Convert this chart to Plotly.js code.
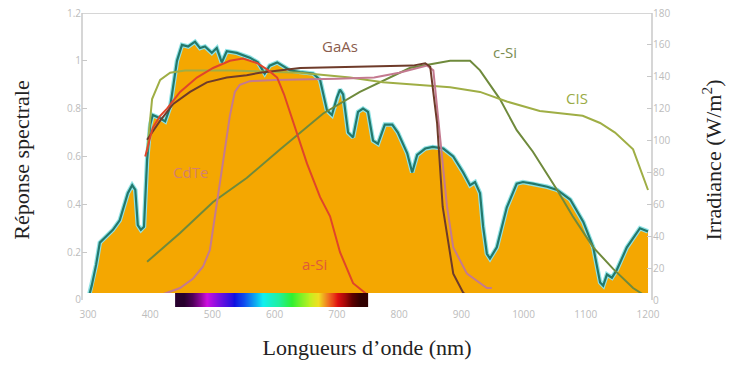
<!DOCTYPE html>
<html>
<head>
<meta charset="utf-8">
<script src="https://cdn.plot.ly/plotly-3.0.1.min.js"></script>
<style>html,body{margin:0;padding:0;background:#fff;}#chart{width:731px;height:367px;}</style>
</head>
<body>
<div id="chart"></div>
<script>
// ---- Solar irradiance spectrum (W/m²) ----
const specNm = [300,306,313,319,327,340,351,359,364,371,376,380,385,390,395,400,404,416,424,432,437,443,451,461,472,480,488,499,507,515,523,539,560,573,584,592,604,613,625,641,662,673,684,692,700,705,710,718,726,734,742,750,758,766,777,789,798,813,821,829,842,854,871,887,903,914,922,930,935,941,946,957,973,989,999,1015,1038,1054,1075,1096,1112,1123,1128,1134,1142,1150,1166,1187,1200];
const specIrr = [0,9,22,36,39,44,50,60,67,72,69,47,44,46,88,110,116,114,112,121,134,150,160,159,162,158,159,155,158,149,156,155,152,149,142,147,149,147,144,143,142,138,119,116,127,132,129,105,102,118,120,118,100,98,110,110,105,92,80,91,95,96,95,90,80,72,74,67,46,29,26,33,58,73,74,73,71,69,63,49,33,11,9,16,14,19,33,45,43];

// ---- Spectral responses ----
const aSiNm  = [392,404,416,427,448,475,501,528,549,572,590,604,615,625,640,652,673,689,705,726,753,785];
const aSiVal = [0.60,0.72,0.77,0.80,0.87,0.93,0.97,1.00,1.01,0.99,0.96,0.93,0.86,0.78,0.67,0.57,0.43,0.35,0.20,0.07,0.013,0];

const cdTeNm  = [395,427,448,469,485,496,504,512,520,528,536,544,560,600,700,760,800,830,845,855,866,877,887,909,941,949];
const cdTeVal = [0,0.03,0.05,0.09,0.14,0.21,0.35,0.49,0.63,0.77,0.87,0.90,0.915,0.92,0.925,0.93,0.95,0.97,0.98,0.96,0.67,0.39,0.22,0.11,0.05,0.05];

const gaAsNm  = [395,416,437,464,491,523,555,576,641,737,822,842,850,861,870,887,903,919,941];
const gaAsVal = [0.67,0.75,0.82,0.87,0.91,0.93,0.94,0.95,0.97,0.975,0.98,0.99,0.975,0.74,0.39,0.11,0.03,0.005,0];

const cSiNm  = [395,448,501,555,609,678,737,817,882,914,930,962,989,1015,1054,1079,1112,1144,1176,1200];
const cSiVal = [0.16,0.28,0.41,0.51,0.63,0.78,0.87,0.97,1.00,1.00,0.96,0.84,0.71,0.62,0.46,0.35,0.22,0.13,0.05,0.01];

const cisNm  = [395,403,416,432,456,528,641,721,774,882,930,973,1026,1095,1123,1147,1176,1200];
const cisVal = [0.62,0.84,0.92,0.95,0.96,0.96,0.95,0.93,0.91,0.89,0.87,0.83,0.79,0.77,0.74,0.70,0.63,0.46];

const curveNames = ['a-Si','CdTe','GaAs','c-Si','CIS'];

// ---- Visible spectrum bar (colour stops, nm) ----
const barNm = [440,467,493,531,552,580,605,628,654,670,686,702,724,750];
const barColors = ['#000000','#50005a','#d010e0','#1010e0','#1050f0','#10f0f0','#20f0a0','#30f030','#c0f020','#f0e020','#f07020','#e01010','#600000','#000000'];

// ---- Axis ticks ----
const xTicks = [300,400,500,600,700,800,900,1000,1100,1200];
const respTicks = [0,0.2,0.4,0.6,0.8,1,1.2];
const respTickText = ['0','0.2','0.4','0.6','0.8','1','1.2'];
const irrTicks = [0,20,40,60,80,100,120,140,160,180];

const barMin = barNm[0], barMax = barNm[barNm.length-1];
const barScale = barNm.map((v,i)=>[(v-barMin)/(barMax-barMin), barColors[i]]);
// heatmap columns between consecutive stops (x given as cell edges)
const barCells = barNm.slice(1).map((v,i)=>(v+barNm[i])/2);

const traces = [
  {x:specNm, y:specIrr, yaxis:'y', type:'scatter', mode:'lines', fill:'tozeroy', fillcolor:'#F4A701',
   line:{color:'#8fe3e6', width:4.5}, hoverinfo:'skip'},
  {x:specNm, y:specIrr, yaxis:'y', type:'scatter', mode:'lines', line:{color:'#23786c', width:2.2}, hoverinfo:'skip'},
  {x:cSiNm, y:cSiVal, yaxis:'y2', type:'scatter', mode:'lines', name:curveNames[3], line:{color:'#6f8a3c', width:2}},
  {x:cisNm, y:cisVal, yaxis:'y2', type:'scatter', mode:'lines', name:curveNames[4], line:{color:'#9fae45', width:2}},
  {x:cdTeNm, y:cdTeVal, yaxis:'y2', type:'scatter', mode:'lines', name:curveNames[1], line:{color:'#c47a90', width:2}},
  {x:gaAsNm, y:gaAsVal, yaxis:'y2', type:'scatter', mode:'lines', name:curveNames[2], line:{color:'#6e3b2a', width:2}},
  {x:aSiNm, y:aSiVal, yaxis:'y2', type:'scatter', mode:'lines', name:curveNames[0], line:{color:'#e0452a', width:2}},
  {x:barNm, y:[0,1], z:[barCells, barCells], yaxis:'y3', type:'heatmap', zsmooth:'best', colorscale:barScale,
   zmin:barMin, zmax:barMax, showscale:false, hoverinfo:'skip'}
];

const tickFont = {family:'Open Sans, sans-serif', size:10, color:'#bcbcbc'};
const titleFont = {family:'Liberation Serif, serif', size:22, color:'#222'};
const labelFont = (c)=>({family:'Open Sans, sans-serif', size:15, color:c});

const layout = {
  width:731, height:367,
  margin:{l:82, r:79, t:13, b:60},
  paper_bgcolor:'#fff', plot_bgcolor:'#fff',
  showlegend:false,
  xaxis:{range:[290.36,1206.4], tickvals:xTicks, showgrid:false, zeroline:false, showline:false, ticks:'', tickfont:tickFont,
         title:{text:'Longueurs d\u2019onde (nm)', font:titleFont, standoff:19}},
  yaxis:{side:'right', range:[-4.39,180], tickvals:irrTicks, showgrid:false, zeroline:false, showline:false,
         ticks:'inside', ticklen:5, tickcolor:'#c8c8c8', tickfont:tickFont,
         title:{text:'Irradiance (W/m<sup>2</sup>)', font:titleFont, standoff:36}},
  yaxis2:{overlaying:'y', side:'left', range:[-0.0293,1.2], tickvals:respTicks, ticktext:respTickText, showgrid:false, zeroline:false, showline:false,
         ticks:'inside', ticklen:5, tickcolor:'#c8c8c8', tickfont:tickFont,
         title:{text:'Réponse spectrale', font:titleFont, standoff:31}},
  yaxis3:{domain:[0,0.0476], range:[0,1], visible:false, anchor:'x', showgrid:false, zeroline:false},
  shapes:[
    {type:'line', xref:'paper', yref:'y2', x0:0, x1:0, y0:0, y1:1.2, line:{color:'#c8c8c8', width:1.5}},
    {type:'line', xref:'paper', yref:'y2', x0:1, x1:1, y0:0, y1:1.2, line:{color:'#c8c8c8', width:1.5}},
    {type:'line', xref:'paper', yref:'y2', x0:0, x1:1, y0:1.2, y1:1.2, line:{color:'#c8c8c8', width:1.5}}
  ],
  annotations:[
    {x:705, y:1.063, xref:'x', yref:'y2', text:curveNames[2], showarrow:false, font:labelFont('#8a5c4c')},
    {x:970, y:1.038, xref:'x', yref:'y2', text:curveNames[3], showarrow:false, font:labelFont('#7a8c50')},
    {x:1086, y:0.845, xref:'x', yref:'y2', text:curveNames[4], showarrow:false, font:labelFont('#9aab45')},
    {x:464, y:0.535, xref:'x', yref:'y2', text:curveNames[1], showarrow:false, font:labelFont('#d4806e')},
    {x:664, y:0.15, xref:'x', yref:'y2', text:curveNames[0], showarrow:false, font:labelFont('#e05a3a')}
  ]
};

Plotly.newPlot('chart', traces, layout, {staticPlot:true, displayModeBar:false});
</script>
</body>
</html>
